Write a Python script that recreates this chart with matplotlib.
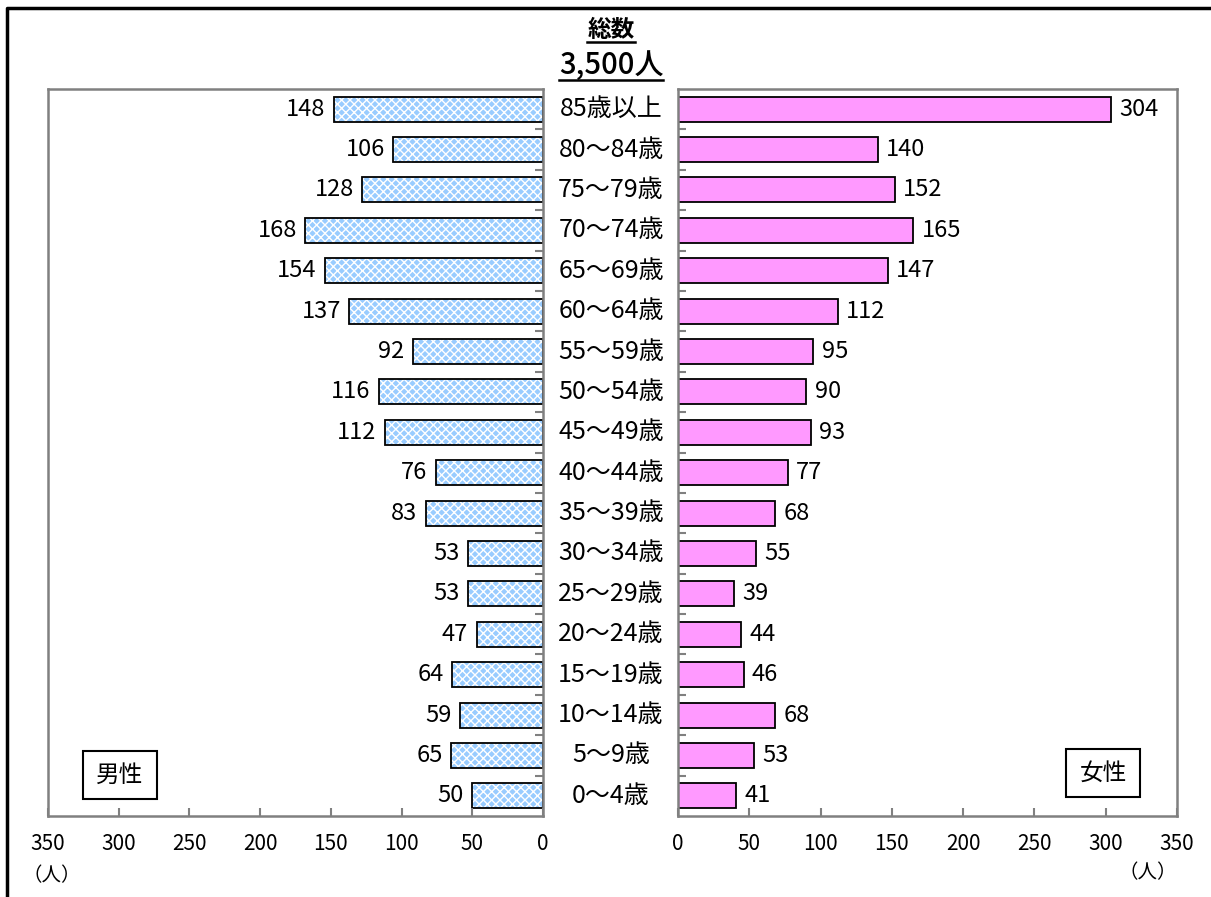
#!/usr/bin/env python3
"""Population pyramid by age group and sex."""
import matplotlib
matplotlib.use("Agg")
import matplotlib.pyplot as plt
from matplotlib.lines import Line2D
import numpy as np

plt.rcParams["font.family"] = ["Noto Sans CJK JP", "DejaVu Sans"]

AGE_GROUPS = ["85歳以上", "80～84歳", "75～79歳", "70～74歳", "65～69歳", "60～64歳",
              "55～59歳", "50～54歳", "45～49歳", "40～44歳", "35～39歳", "30～34歳",
              "25～29歳", "20～24歳", "15～19歳", "10～14歳", "5～9歳", "0～4歳"]
MALE = [148, 106, 128, 168, 154, 137, 92, 116, 112, 76, 83, 53, 53, 47, 64, 59, 65, 50]
FEMALE = [304, 140, 152, 165, 147, 112, 95, 90, 93, 77, 68, 55, 39, 44, 46, 68, 53, 41]
TOTAL_LABEL = "総数"
TOTAL_VALUE = "3,500人"
X_TICKS = [0, 50, 100, 150, 200, 250, 300, 350]

W, H = 1211, 897
MALE_COLOR = "#99CCFF"
FEMALE_COLOR = "#FF99FF"
SPINE = "#808080"

fig = plt.figure(figsize=(W / 100, H / 100), dpi=100)
ax_m = fig.add_axes([48 / W, 1 - 816 / H, 495 / W, 727 / H])
ax_f = fig.add_axes([678 / W, 1 - 816 / H, 499 / W, 727 / H])

y = np.arange(len(AGE_GROUPS))[::-1]
bar_h = 0.62

# male side: hatched fill, then black outline on top
ax_m.barh(y, MALE, height=bar_h, color=MALE_COLOR, edgecolor="white",
          hatch="xxxx", linewidth=0)
ax_m.barh(y, MALE, height=bar_h, fill=False, edgecolor="black", linewidth=1.3)
ax_f.barh(y, FEMALE, height=bar_h, color=FEMALE_COLOR, edgecolor="black",
          linewidth=1.3)

for yi, v in zip(y, MALE):
    ax_m.annotate(str(v), (v, yi), xytext=(-6, 0), textcoords="offset points",
                  ha="right", va="center", fontsize=17)
for yi, v in zip(y, FEMALE):
    ax_f.annotate(str(v), (v, yi), xytext=(6, 0), textcoords="offset points",
                  ha="left", va="center", fontsize=17)

ax_m.set_xlim(350, 0)
ax_f.set_xlim(0, 350)
for ax in (ax_m, ax_f):
    ax.set_ylim(-0.5, len(AGE_GROUPS) - 0.5)
    for s in ax.spines.values():
        s.set_color(SPINE)
        s.set_linewidth(1.8)
    ax.set_xticks(X_TICKS)
    ax.set_xticklabels([str(t) for t in X_TICKS])
    ax.tick_params(axis="x", direction="in", length=6, width=1.5, color=SPINE,
                   labelsize=15, pad=12)
    ax.set_yticks(np.arange(len(AGE_GROUPS) - 1) + 0.5)
    ax.set_yticklabels([])
    ax.tick_params(axis="y", direction="in", length=6, width=1.5, color=SPINE)

ax_m.yaxis.tick_right()
ax_f.yaxis.tick_left()

# age labels in the gap between the two panels
for yi, lab in zip(y, AGE_GROUPS):
    _, fy = fig.transFigure.inverted().transform(ax_m.transData.transform((0, yi)))
    fig.text(611 / W, fy, lab, ha="center", va="center", fontsize=18)

# sex labels
box = dict(boxstyle="square,pad=0.55", facecolor="white", edgecolor="black", linewidth=1.5)
fig.text(120 / W, 1 - 775 / H, "男性", fontsize=17, ha="center", va="center", bbox=box)
fig.text(1103 / W, 1 - 773 / H, "女性", fontsize=17, ha="center", va="center", bbox=box)

# unit labels
fig.text(52 / W, 1 - 876 / H, "（人）", ha="center", va="center", fontsize=14)
fig.text(1148 / W, 1 - 873 / H, "（人）", ha="center", va="center", fontsize=14)

# title with underlines
t1 = fig.text(611 / W, 1 - 30 / H, TOTAL_LABEL, ha="center", va="center",
              fontsize=17, fontweight="bold")
t2 = fig.text(611 / W, 1 - 65 / H, TOTAL_VALUE, ha="center", va="center",
              fontsize=21, fontweight="medium")
fig.canvas.draw()
r = fig.canvas.get_renderer()
for t in (t1, t2):
    bb = t.get_window_extent(r)
    yy = bb.y0
    fig.add_artist(Line2D([bb.x0 / W, bb.x1 / W], [yy / H, yy / H],
                          transform=fig.transFigure, color="black", linewidth=1.8))

# outer frame (left and top edges visible)
fig.add_artist(Line2D([7 / W, 7 / W, 1.0], [0.0, 1 - 8.5 / H, 1 - 8.5 / H],
                      transform=fig.transFigure, color="black", linewidth=2.5))

fig.savefig("out.png", dpi=100)
